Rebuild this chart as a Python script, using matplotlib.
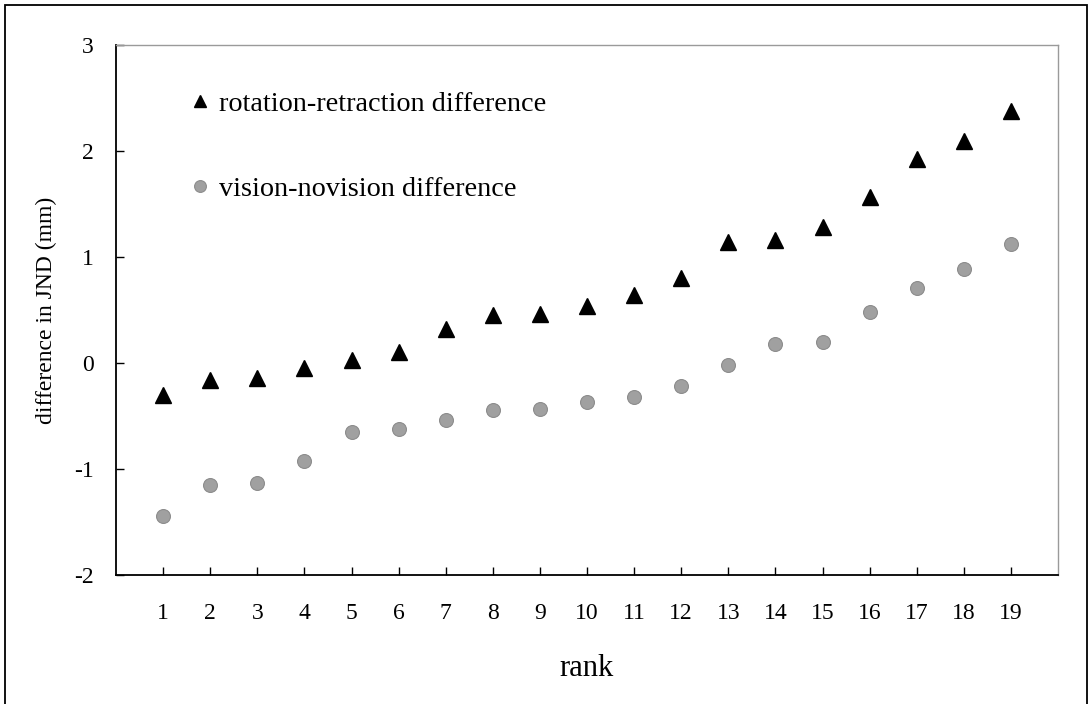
import matplotlib
matplotlib.use("Agg")
import matplotlib.pyplot as plt
from matplotlib.patches import Rectangle
import numpy as np

plt.rcParams['font.family'] = ['Liberation Serif', 'DejaVu Serif']
plt.rcParams['axes.unicode_minus'] = False

# data
ranks = np.arange(1, 20)
rot_retr = [-0.30, -0.16, -0.145, -0.05, 0.03, 0.10, 0.32, 0.45, 0.46, 0.54,
            0.64, 0.80, 1.14, 1.16, 1.28, 1.57, 1.92, 2.09, 2.38]
vis_novis = [-1.44, -1.15, -1.13, -0.92, -0.65, -0.62, -0.54, -0.44, -0.43, -0.37,
             -0.32, -0.22, -0.02, 0.18, 0.20, 0.48, 0.71, 0.89, 1.12]
yticks = [-2, -1, 0, 1, 2, 3]

fig = plt.figure(figsize=(10.91, 7.04), dpi=100)
ax = fig.add_axes([116 / 1091, 1 - 575 / 704, (1058 - 116) / 1091, (575 - 45) / 704])

ax.plot(ranks, rot_retr, linestyle='none', marker='^', ms=11, color='black',
        label='rotation-retraction difference')
ax.plot(ranks, vis_novis, linestyle='none', marker='o', ms=10, color='#a0a0a0',
        markeredgecolor='#8c8c8c', markeredgewidth=0.8, label='vision-novision difference')

ax.set_xlim(0, 20)
ax.set_ylim(-2, 3)
ax.set_xticks(ranks)
ax.set_yticks(yticks)
ax.tick_params(direction='in', length=6, width=1, labelsize=17)
ax.tick_params(axis='x', pad=20)
ax.tick_params(axis='y', pad=16)

for s in ['left', 'bottom']:
    ax.spines[s].set_color('black')
    ax.spines[s].set_linewidth(1.3)
for s in ['top', 'right']:
    ax.spines[s].set_color('#9a9a9a')
    ax.spines[s].set_linewidth(1.0)

ax.set_xlabel('rank', fontsize=22, labelpad=22)
ax.set_ylabel('difference in JND (mm)', fontsize=17, labelpad=12)

ax.legend(loc='upper left', bbox_to_anchor=(0.064, 0.94), frameon=False,
          fontsize=20.3, handlelength=0.7, handletextpad=0.3, labelspacing=2.12,
          borderpad=0, markerscale=0.85)

# outer frame around the whole picture
fig.patches.append(Rectangle((5 / 1091, -0.01), 1082 / 1091, 1.01 - 5 / 704,
                             transform=fig.transFigure, fill=False,
                             edgecolor='black', linewidth=1.3))

plt.savefig('out.png', dpi=100)
plt.close()
